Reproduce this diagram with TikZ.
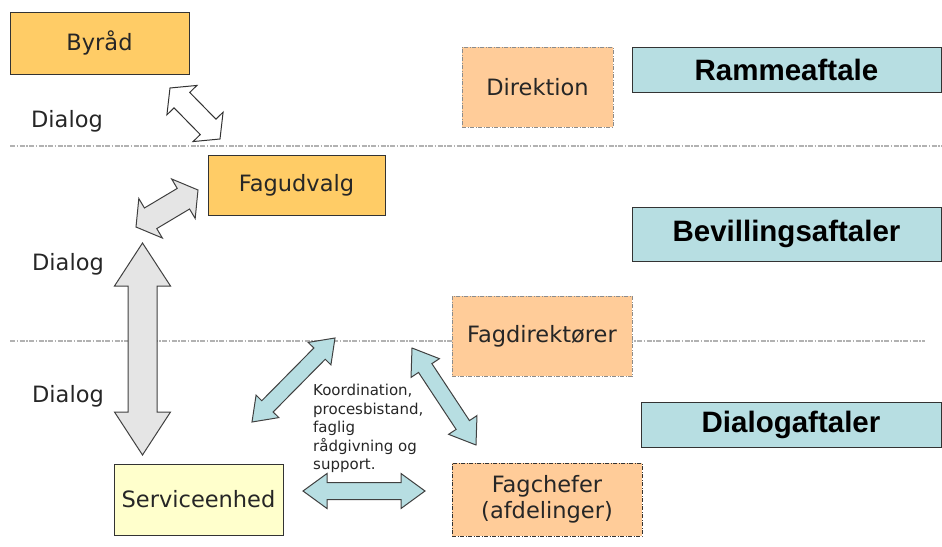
\documentclass[tikz,border=0pt]{standalone}
\usepackage{fontspec}
\setmainfont{DejaVu Sans}
\newfontfamily\agreefont{Liberation Sans}
\usetikzlibrary{calc}

\definecolor{councilorange}{RGB}{255,204,102}
\definecolor{mgmtpeach}{RGB}{255,204,153}
\definecolor{servyellow}{RGB}{255,255,204}
\definecolor{agreeteal}{RGB}{183,222,226}

% fat double arrow: style, from, to, shaft half width, head length, head half width
\newcommand{\fatarrow}[6]{%
  \coordinate (fa1) at ($(#2)!#5pt!(#3)$);
  \coordinate (fa2) at ($(#3)!#5pt!(#2)$);
  \draw[#1] (#2) -- ($(fa1)!#6pt!90:(#3)$) -- ($(fa1)!#4pt!90:(#3)$)
    -- ($(fa2)!#4pt!-90:(#2)$) -- ($(fa2)!#6pt!-90:(#2)$) -- (#3)
    -- ($(fa2)!#6pt!90:(#2)$) -- ($(fa2)!#4pt!90:(#2)$)
    -- ($(fa1)!#4pt!-90:(#3)$) -- ($(fa1)!#6pt!-90:(#3)$) -- cycle;
}

\begin{document}
\begin{tikzpicture}[x=1pt, y=-1pt,
    box/.style={draw=black!80, line width=1pt, text=black!85, align=center,
      font=\fontsize{22.5}{26}\selectfont},
    council/.style={box, fill=councilorange},
    mgmt/.style={box, fill=mgmtpeach, draw=black!45,
      dash pattern=on 4pt off 1.5pt on 1pt off 1.5pt},
    agree/.style={draw=black!80, line width=1pt, fill=agreeteal,
      font=\agreefont\bfseries\fontsize{29.5}{33}\selectfont},
    sideword/.style={text=black!85, font=\fontsize{22.5}{26}\selectfont},
    separator/.style={draw=black!30, line width=1.5pt,
      dash pattern=on 5pt off 1.5pt on 1.5pt off 1.5pt},
    whitearrow/.style={draw=black!80, line width=1pt, fill=white},
    grayarrow/.style={draw=black!75, line width=1pt, fill=black!10},
    bluearrow/.style={draw=black!75, line width=1pt, fill=agreeteal}]
    \useasboundingbox (0,0) rectangle (942,546);

    % Separators
    \draw[separator] (10,146) -- (942,146);
    \draw[separator] (10,341) -- (925,341);

    % Political level
    \node[council, minimum width=179pt, minimum height=62pt] (byraad) at (99.5,43) {Byråd};
    \node[council, minimum width=177pt, minimum height=60pt] (fagudvalg) at (296.5,185) {Fagudvalg};

    % Management
    \node[mgmt, minimum width=151pt, minimum height=80pt] (direktion) at (537.5,87) {Direktion};
    \node[mgmt, minimum width=180pt, minimum height=80pt] (fagdir) at (542,336) {Fagdirektører};
    \node[mgmt, draw=black!80, minimum width=190pt, minimum height=73pt] (fagchef) at (547,499.5) {Fagchefer\\(afdelinger)};
    \node[box, fill=servyellow, minimum width=169pt, minimum height=71pt] (service) at (198.5,499.5) {Serviceenhed};

    % Agreements
    \node[agree, minimum width=309pt, minimum height=45pt] (ramme) at (786.5,69.5) {Rammeaftale};
    \node[agree, minimum width=309pt, minimum height=54pt] (bevilling) at (786.5,234) {Bevillingsaftaler};
    \node[agree, minimum width=300pt, minimum height=45pt] (dialogaft) at (791,424.5) {Dialogaftaler};

    % Dialog labels
    \node[sideword] (dialog1) at (67,121) {Dialog};
    \node[sideword] (dialog2) at (68,264) {Dialog};
    \node[sideword] (dialog3) at (68,396) {Dialog};

    \node[anchor=north west, align=left, text=black!85, inner sep=0pt,
      font=\fontsize{15}{18.5}\selectfont] (koord) at (313,384)
      {Koordination,\\procesbistand,\\faglig\\rådgivning og\\support.};

    % Arrow ends
    \coordinate (wa1) at (170,88);
    \coordinate (wa2) at (220,139);
    \coordinate (ga1) at (136,227);
    \coordinate (ga2) at (198,190);
    \coordinate (va1) at (142.5,455);
    \coordinate (va2) at (142.5,243);
    \coordinate (ba1) at (252,422);
    \coordinate (ba2) at (335,338);
    \coordinate (bb1) at (412,348);
    \coordinate (bb2) at (476,445);
    \coordinate (bc1) at (303,491);
    \coordinate (bc2) at (425,491);

    % Dialog arrows
    \fatarrow{whitearrow}{wa1}{wa2}{11}{17}{21}
    \fatarrow{grayarrow}{ga1}{ga2}{12}{17}{23}
    \fatarrow{grayarrow}{va1}{va2}{14.5}{43}{28}

    % Support arrows
    \fatarrow{bluearrow}{ba1}{ba2}{8}{22}{16}
    \fatarrow{bluearrow}{bb1}{bb2}{8}{24}{17}
    \fatarrow{bluearrow}{bc1}{bc2}{8.5}{24}{17.5}
\end{tikzpicture}
\end{document}
